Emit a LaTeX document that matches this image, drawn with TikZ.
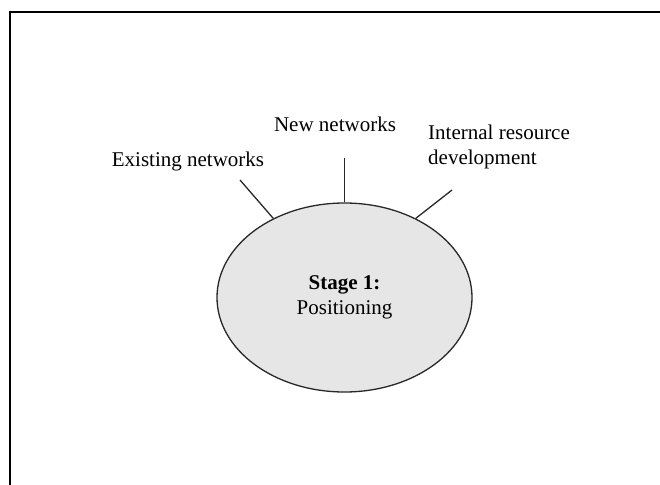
\documentclass[tikz,border=0pt]{standalone}
\usepackage{fontspec}
\setmainfont{Liberation Serif}
\usetikzlibrary{shapes.geometric}
\definecolor{stagefill}{RGB}{230,230,230}
\definecolor{edge}{RGB}{40,40,40}
\begin{document}
\begin{tikzpicture}[x=1pt,y=-1pt]

    \tikzset{
      label/.style={
        font=\fontsize{21}{25}\selectfont,
        inner sep=0pt,
      },
      stage/.style={
        draw=edge,
        line width=1.3pt,
        fill=stagefill,
        ellipse,
        inner sep=0pt,
        minimum width=255pt,
        minimum height=189pt,
        align=center,
        font=\fontsize{21}{25}\selectfont,
      },
      link/.style={
        draw=edge,
        line width=1.3pt,
      },
    }
    \useasboundingbox (0,0) rectangle (660,484);
    \draw[line width=2.5pt] (10,500) -- (10,12) -- (680,12);
	\node[stage] (pos) at (344.5,297.5) {\textbf{Stage 1:}\\Positioning};
	\node[label,anchor=base] (exist) at (188,166) {Existing networks};
	\node[label,anchor=base] (new) at (335,131) {New networks};
	\node[label,anchor=north west,align=left] (intern) at (428,125) {Internal resource\\development};
	\coordinate (e1) at (240,180);
	\coordinate (n1) at (344.5,158);
	\coordinate (i1) at (452,190);
	\draw[link] (e1)--(pos.132);
	\draw[link] (n1)--(pos.north);
	\draw[link] (i1)--(pos.48);

\end{tikzpicture}
\end{document}
